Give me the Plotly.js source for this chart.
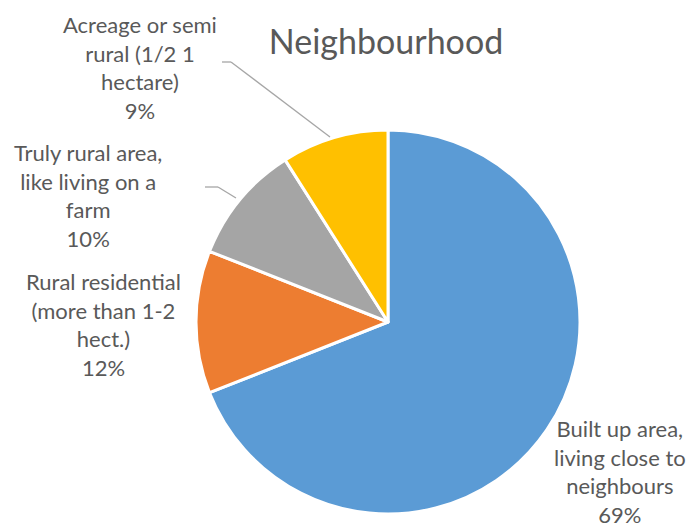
<!DOCTYPE html>
<html>
<head>
<meta charset="utf-8">
<script src="https://cdn.plot.ly/plotly-3.0.1.min.js"></script>
<style>html,body{margin:0;padding:0;background:#fff;}#chart{width:689px;height:527px;}</style>
</head>
<body>
<div id="chart"></div>
<script>
const categories = [
  "Built up area,<br>living close to<br>neighbours",
  "Rural residential<br>(more than 1-2<br>hect.)",
  "Truly rural area,<br>like living on a<br>farm",
  "Acreage or semi<br>rural (1/2 1<br>hectare)"
];
const values = [69, 12, 10, 9];
const colors = ["#5B9BD5", "#ED7D31", "#A5A5A5", "#FFC000"];
const chartTitle = "Neighbourhood";

const W = 689, H = 527;
const px = x => x / W;
const py = y => 1 - y / H;

// label block centres (pixels)
const labelPos = [[620, 471], [103, 324], [88, 196], [140, 67]];
const total = values.reduce((a, b) => a + b, 0);
const annotations = categories.map((c, i) => ({
  text: c + "<br>" + Math.round(values[i] / total * 100) + "%",
  x: px(labelPos[i][0]), y: py(labelPos[i][1]),
  xref: "paper", yref: "paper", xanchor: "center", yanchor: "middle",
  showarrow: false, align: "center",
  font: {family: "Lato, 'Open Sans', sans-serif", size: 22, color: "#595959"}
}));

const leader = [
  [[222, 62], [231, 62], [330, 137]],
  [[205, 187], [218, 187], [236, 198]]
];
const shapes = [];
leader.forEach(pts => {
  for (let k = 0; k < pts.length - 1; k++) {
    shapes.push({type: "line", xref: "paper", yref: "paper",
      x0: px(pts[k][0]), y0: py(pts[k][1]), x1: px(pts[k+1][0]), y1: py(pts[k+1][1]),
      line: {color: "#A6A6A6", width: 1.3}});
  }
});

const cx = 388, cy = 322, r = 192;
const trace = {
  type: "pie",
  labels: categories,
  values: values,
  sort: false,
  direction: "clockwise",
  rotation: 0,
  textinfo: "none",
  hoverinfo: "label+percent",
  marker: {colors: colors, line: {color: "#FFFFFF", width: 3}},
  domain: {x: [px(cx - r), px(cx + r)], y: [py(cy + r), py(cy - r)]},
  showlegend: false
};

const layout = {
  width: W, height: H,
  margin: {l: 0, r: 0, t: 0, b: 0},
  paper_bgcolor: "#FFFFFF",
  title: {text: chartTitle, x: px(386), xanchor: "center", xref: "paper",
          y: py(42), yanchor: "middle", yref: "paper",
          font: {family: "Lato, 'Open Sans', sans-serif", size: 34, color: "#595959"}},
  annotations: annotations,
  shapes: shapes,
  showlegend: false
};

Plotly.newPlot("chart", [trace], layout, {displayModeBar: false, staticPlot: true});
</script>
</body>
</html>
